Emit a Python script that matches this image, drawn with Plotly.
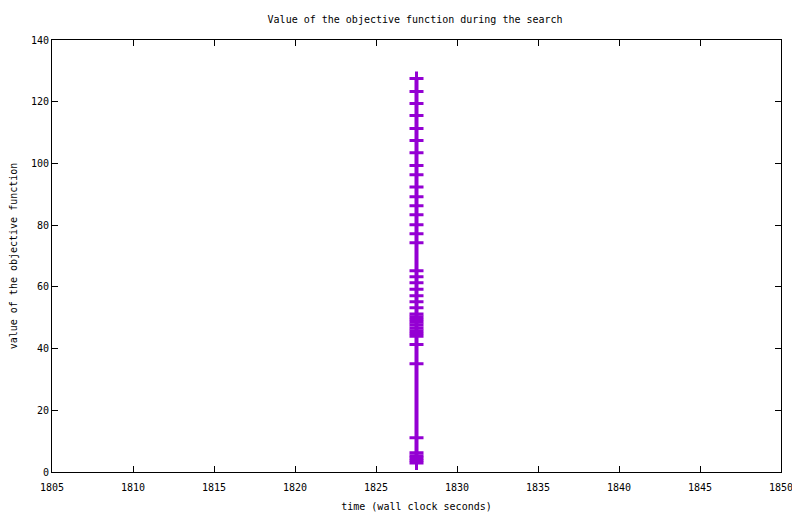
"""Objective value during the search (gnuplot-style look)"""

import plotly.graph_objects as go

# Wall clock time of each evaluation (all at ~1827.5 s)
times = [1827.5] * 40

# Objective value found at each step
values = [127.5, 123.3, 119.4, 115.5, 111.3, 107.4, 103.5, 99.3, 96.3, 92.4,
          89.2, 86.3, 83.4, 80.1, 77.2, 74.3, 65.2, 63.3, 61.3, 59.2,
          57.1, 55.2, 53.2, 51.2, 50.3, 49.4, 48.5, 47.6, 46.7, 45.8,
          44.9, 44.0, 41.3, 35.1, 11.1, 6.2, 5.3, 4.5, 3.7, 2.9]

x_ticks = [1805, 1810, 1815, 1820, 1825, 1830, 1835, 1840, 1845, 1850]
y_ticks = [0, 20, 40, 60, 80, 100, 120, 140]

purple = '#9400D3'
mono = 'DejaVu Sans Mono'

fig = go.Figure()

fig.add_trace(go.Scatter(
    x=times,
    y=values,
    mode='lines+markers',
    line=dict(color=purple, width=4),
    marker=dict(symbol='cross-thin-open', size=10,
                line=dict(color=purple, width=3)),
    showlegend=False
))

axis_style = dict(
    showline=True,
    linecolor='black',
    linewidth=1,
    mirror='ticks',
    ticks='inside',
    ticklen=6,
    tickcolor='black',
    showgrid=False,
    zeroline=False,
    automargin=False,
    tickfont=dict(family=mono, size=10, color='black'),
)

# page body has an 8px margin, so the figure is a little smaller than the window
fig.update_layout(
    width=792,
    height=506,
    plot_bgcolor='white',
    paper_bgcolor='white',
    margin=dict(l=44, r=19, t=32, b=42),
    title=dict(
        text='Value of the objective function during the search',
        font=dict(family=mono, size=10, color='black'),
        x=0.514, xanchor='center',
        y=0.978, yanchor='middle'
    ),
    xaxis=dict(
        range=[1805, 1850],
        tickvals=x_ticks,
        ticklabelstandoff=6,
        title=dict(text='time (wall clock seconds)',
                   font=dict(family=mono, size=10, color='black'),
                   standoff=10),
        **axis_style
    ),
    yaxis=dict(
        range=[0, 140],
        tickvals=y_ticks,
        title=dict(text='value of the objective function',
                   font=dict(family=mono, size=10, color='black'),
                   standoff=16),
        **axis_style
    ),
)

fig.write_html("out.html")
